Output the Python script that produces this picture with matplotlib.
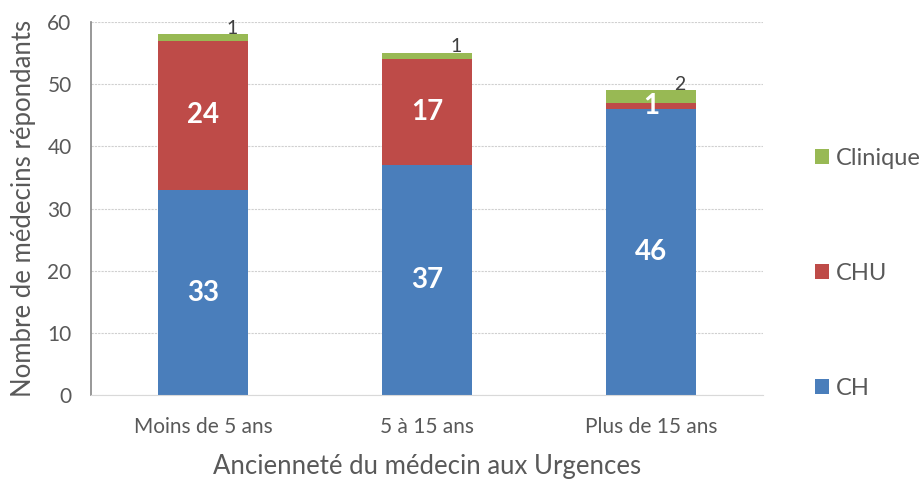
import matplotlib.pyplot as plt
import numpy as np

categories = ["Moins de 5 ans", "5 à 15 ans", "Plus de 15 ans"]
ch = [33, 37, 46]
chu = [24, 17, 1]
clinique = [1, 1, 2]

c_ch = "#4a7ebb"
c_chu = "#be4b48"
c_cli = "#98b954"
grey = "#595959"

plt.rcParams['font.family'] = ['Lato', 'DejaVu Sans']

fig = plt.figure(figsize=(9.24, 4.79), dpi=100)
ax = fig.add_axes([0.0985, 0.175, 0.727, 0.779])

x = np.arange(len(categories))
w = 0.4
ch = np.array(ch)
chu = np.array(chu)
clinique = np.array(clinique)

b1 = ax.bar(x, ch, w, color=c_ch, label="CH", zorder=2)
b2 = ax.bar(x, chu, w, bottom=ch, color=c_chu, label="CHU", zorder=2)
b3 = ax.bar(x, clinique, w, bottom=ch + chu, color=c_cli, label="Clinique", zorder=2)

for i in range(len(x)):
    ax.text(x[i], ch[i] / 2, str(ch[i]), ha="center", va="center",
            color="white", fontsize=20, fontweight="bold", zorder=3)
    ax.text(x[i], ch[i] + chu[i] / 2, str(chu[i]), ha="center", va="center",
            color="white", fontsize=20, fontweight="bold", zorder=3)
    ax.text(x[i] + 0.13, ch[i] + chu[i] + clinique[i] + 1.0, str(clinique[i]),
            ha="center", va="center", color="#404040", fontsize=14, zorder=3)

ax.set_xlim(-0.5, 2.5)
ax.set_ylim(0, 60)
ax.set_yticks(range(0, 61, 10))
ax.set_xticks(x)
ax.set_xticklabels(categories, fontsize=15, color=grey)
ax.tick_params(axis="y", labelsize=15, colors=grey, length=0, pad=14)
ax.tick_params(axis="x", length=0, pad=16)
ax.grid(axis="y", color="#d0d0d0", linestyle=(0, (2, 1)), linewidth=0.8, zorder=0)

for s in ["top", "right"]:
    ax.spines[s].set_visible(False)
ax.spines["left"].set_color("#868686")
ax.spines["left"].set_linewidth(1.2)
ax.spines["bottom"].set_color("#d9d9d9")

ax.set_ylabel("Nombre de médecins répondants", fontsize=18.5, color=grey, labelpad=8)
ax.set_xlabel("Ancienneté du médecin aux Urgences", fontsize=18.5, color=grey, labelpad=12)

handles = [b3, b2, b1]
leg = fig.legend(handles, ["Clinique", "CHU", "CH"], loc="center left",
                 bbox_to_anchor=(0.882, 0.43), frameon=False, fontsize=17,
                 labelspacing=3.98, handlelength=0.6, handleheight=0.6,
                 handletextpad=0.3, borderpad=0, borderaxespad=0)
for t in leg.get_texts():
    t.set_color(grey)

fig.savefig("out.png", dpi=100)
